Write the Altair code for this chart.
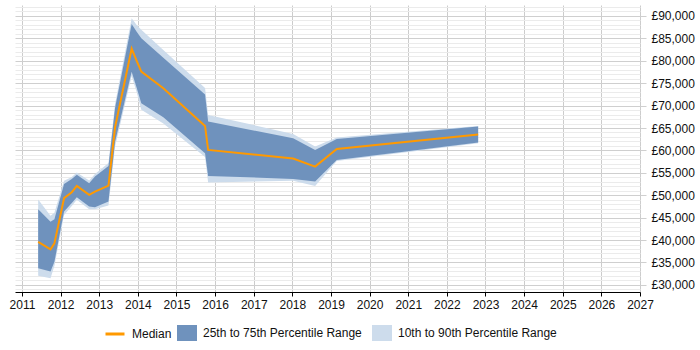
import altair as alt
import pandas as pd

# Salary percentiles over time (GBP)
years = [2011.42, 2011.74, 2011.84, 2012.09, 2012.29, 2012.42, 2012.74, 2012.89,
         2013.24, 2013.41, 2013.84, 2013.97, 2014.09, 2014.66, 2015.74, 2015.82,
         2018.02, 2018.59, 2019.15, 2022.81]
p90 = [49070, 45390, 46060, 53200, 54090, 55050, 53270, 54760,
       57210, 70370, 89490, 88000, 86900, 82400, 73940, 67920,
       63680, 60850, 62860, 65470]
p75 = [46840, 44050, 44610, 52530, 53640, 54540, 52690, 54160,
       56540, 69480, 88220, 86500, 85020, 80700, 72490, 66430,
       62720, 60110, 62570, 65310]
p50 = [39590, 37920, 39260, 49340, 50680, 52080, 50080, 50810,
       52150, 65130, 82690, 79970, 77580, 73880, 65470, 60110,
       58170, 56390, 60340, 63530]
p25 = [33725, 32970, 35130, 46350, 48290, 49560, 47470, 47330,
       48580, 61900, 77580, 74000, 70500, 67400, 59380, 54310,
       53640, 53040, 57880, 61740]
p10 = [32010, 31490, 34200, 45610, 47620, 48960, 46890, 46890,
       47730, 60890, 76620, 73000, 69100, 66000, 58550, 52860,
       53200, 52080, 57660, 61600]

year_ticks = list(range(2011, 2028))
salary_ticks = list(range(29000, 93000, 1000))

df = pd.DataFrame({"year": years, "p10": p10, "p25": p25, "p50": p50,
                   "p75": p75, "p90": p90})

FONT = "Liberation Sans"
ORANGE = "#ff9900"
DARK = "#6f92bd"
LIGHT = "#cddcec"
band_names = ["25th to 75th Percentile Range", "10th to 90th Percentile Range"]
band_scale = alt.Scale(domain=band_names, range=[DARK, LIGHT])

x_enc = alt.X(
    "year:Q",
    scale=alt.Scale(domain=[2010.82, 2027], nice=False, zero=False),
    axis=alt.Axis(values=year_ticks, tickCount=len(year_ticks) + 5, format="d",
                  title=None, grid=True, labelFlush=False,
                  gridColor="#cccccc", domainColor="#000000", tickColor="#000000",
                  tickSize=4, labelPadding=3, labelFontSize=12, labelFont=FONT,
                  labelColor="#111111", labelOverlap=False),
)
y_scale = alt.Scale(domain=[28400, 92450], nice=False, zero=False)
y_axis = alt.Axis(
    orient="right", values=salary_ticks, tickCount=len(salary_ticks) + 5,
    title=None, domain=False, labelFlush=False,
    grid=True,
    gridColor={"condition": {"test": "datum.value % 5000 === 0", "value": "#cfcfcf"},
               "value": "#ebebeb"},
    tickColor={"condition": {"test": "datum.value % 5000 === 0", "value": "#cfcfcf"},
               "value": "transparent"},
    tickSize=6, labelPadding=5, labelFontSize=12, labelFont=FONT,
    labelColor="#111111", labelOverlap=False,
    labelExpr="datum.value % 5000 === 0 ? '£' + format(datum.value, ',') : ''",
)

legend_common = dict(orient="none", direction="horizontal", title=None, padding=0,
                     labelFontSize=12, labelFont=FONT, labelColor="#111111",
                     labelOffset=6, columnPadding=10)

base = alt.Chart(df)

light = base.transform_calculate(band=f"'{band_names[1]}'").mark_area(opacity=1).encode(
    x=x_enc,
    y=alt.Y("p10:Q", scale=y_scale, axis=y_axis),
    y2="p90:Q",
    fill=alt.Fill("band:N", scale=band_scale,
                  legend=alt.Legend(symbolType="M-1,-0.8H1V0.8H-1Z",
                                    symbolSize=400, symbolStrokeWidth=0,
                                    legendX=162, legendY=318, **legend_common)),
)
dark = base.transform_calculate(band=f"'{band_names[0]}'").mark_area(opacity=1).encode(
    x="year:Q",
    y="p25:Q",
    y2="p75:Q",
    fill=alt.Fill("band:N", scale=band_scale),
)
median = base.transform_calculate(series="'Median'").mark_line(strokeWidth=2).encode(
    x="year:Q",
    y="p50:Q",
    stroke=alt.Stroke("series:N",
                      scale=alt.Scale(domain=["Median"], range=[ORANGE]),
                      legend=alt.Legend(symbolType="stroke", symbolSize=361,
                                        symbolStrokeWidth=3,
                                        legendX=89, legendY=318, **legend_common)),
)

chart = (
    alt.layer(light, dark, median)
    .properties(width=625, height=287,
                autosize=alt.AutoSizeParams(type="none"),
                padding={"left": 15, "top": 5, "right": 60, "bottom": 58},
                background="white")
    .configure_view(stroke=None)
)

chart.save("out.html", embed_options={"renderer": "svg", "actions": False})
